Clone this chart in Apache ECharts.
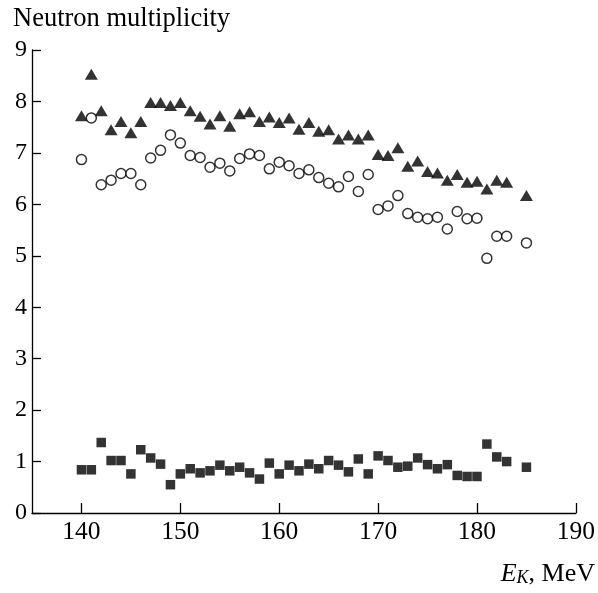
<!DOCTYPE html>
<html>
<head>
<meta charset="utf-8">
<script src="https://cdn.jsdelivr.net/npm/echarts@6/dist/echarts.min.js"></script>
<style>html,body{margin:0;padding:0;background:#fff}#c{width:598px;height:593px}</style>
</head>
<body>
<div id="c"></div>
<script>
const energies = [140,141,142,143,144,145,146,147,148,149,150,151,152,153,154,155,156,157,158,159,160,161,162,163,164,165,166,167,168,169,170,171,172,173,174,175,176,177,178,179,180,181,182,183,185];
const triangles = [7.72,8.53,7.82,7.45,7.61,7.39,7.61,7.98,7.98,7.92,7.98,7.82,7.71,7.56,7.72,7.52,7.76,7.80,7.61,7.70,7.59,7.68,7.46,7.59,7.42,7.45,7.27,7.35,7.27,7.35,6.97,6.95,7.10,6.74,6.84,6.64,6.61,6.47,6.58,6.43,6.45,6.30,6.47,6.43,6.17];
const circles = [6.87,7.68,6.38,6.47,6.60,6.60,6.38,6.90,7.05,7.35,7.19,6.95,6.91,6.72,6.80,6.65,6.89,6.98,6.95,6.69,6.82,6.75,6.60,6.67,6.52,6.41,6.34,6.54,6.25,6.58,5.90,5.97,6.17,5.82,5.75,5.72,5.75,5.52,5.86,5.72,5.73,4.95,5.38,5.38,5.25];
const squares = [0.84,0.84,1.37,1.02,1.02,0.76,1.23,1.07,0.95,0.55,0.76,0.86,0.78,0.82,0.93,0.82,0.89,0.78,0.66,0.97,0.76,0.93,0.82,0.95,0.86,1.02,0.93,0.80,1.05,0.76,1.11,1.02,0.89,0.91,1.07,0.94,0.86,0.94,0.73,0.71,0.71,1.34,1.09,1.00,0.89];
const xTicks = [140,150,160,170,180,190];
const yTicks = [0,1,2,3,4,5,6,7,8,9];

const font = '"Liberation Serif", "Times New Roman", serif';
const pair = arr => energies.map((e,i)=>[e, arr[i]]);

const chart = echarts.init(document.getElementById('c'), null, {renderer:'canvas'});
chart.setOption({
  animation: false,
  backgroundColor: '#fff',
  title: {
    text: 'Neutron multiplicity',
    left: 8, top: 1,
    textStyle: {fontFamily: font, fontSize: 26.5, fontWeight: 'normal', color: '#000'}
  },
  grid: {left: 32, right: 19, top: 50, bottom: 80, containLabel: false},
  xAxis: {
    type: 'value', min: 135, max: 190,
    axisLine: {lineStyle: {color: '#000', width: 1.3}},
    axisTick: {inside: true, length: 10, lineStyle: {color: '#000', width: 1.3}, customValues: xTicks},
    axisLabel: {customValues: xTicks, margin: 6, color: '#000', fontFamily: font, fontSize: 25.5},
    splitLine: {show: false}
  },
  yAxis: {
    type: 'value', min: 0, max: 9, interval: 1,
    axisLine: {show: true, lineStyle: {color: '#000', width: 1.3}},
    axisTick: {show: true, inside: true, length: 9, lineStyle: {color: '#000', width: 1.3}},
    axisLabel: {margin: 5, color: '#000', fontFamily: font, fontSize: 24,
      formatter: v => yTicks.includes(v) ? String(v) : ''},
    splitLine: {show: false}
  },
  graphic: [{
    type: 'text', right: 3, top: 561,
    style: {
      text: '{i|E}{s|K}{n|, MeV}',
      rich: {
        i: {fontFamily: font, fontStyle: 'italic', fontSize: 26, fill: '#000'},
        s: {fontFamily: font, fontStyle: 'italic', fontSize: 18, fill: '#000', verticalAlign: 'bottom', padding: [9,0,0,0]},
        n: {fontFamily: font, fontSize: 26, fill: '#000'}
      }
    }
  }],
  series: [
    {type: 'scatter', data: pair(triangles), symbol: 'triangle', symbolSize: [13,11],
     itemStyle: {color: '#000'}},
    {type: 'scatter', data: pair(circles), symbol: 'circle', symbolSize: 10,
     itemStyle: {color: '#fff', borderColor: '#000', borderWidth: 1.5}},
    {type: 'scatter', data: pair(squares), symbol: 'rect', symbolSize: 9.5,
     itemStyle: {color: '#000'}}
  ]
});
</script>
</body>
</html>
